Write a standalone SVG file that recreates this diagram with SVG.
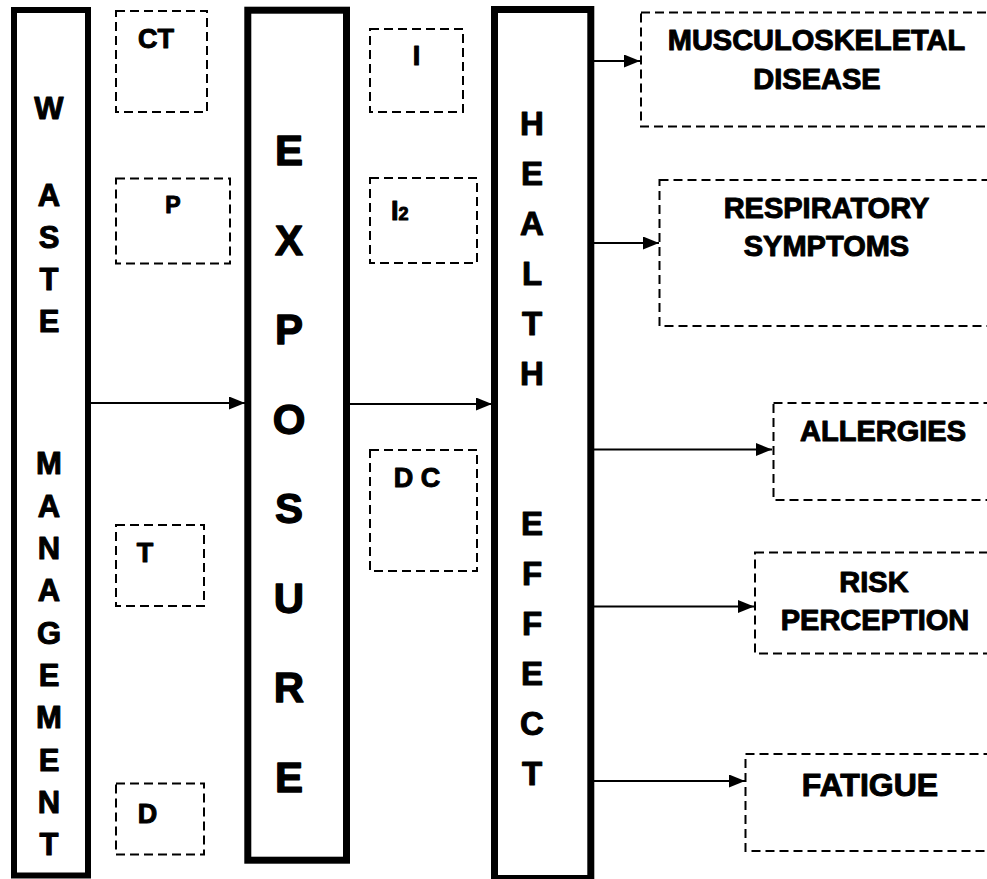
<svg xmlns="http://www.w3.org/2000/svg" width="987" height="879" viewBox="0 0 987 879">
<style>
.thick{fill:#fff;stroke:#000;}
.dash{fill:none;stroke:#000;stroke-width:2;stroke-dasharray:9 5;}
text{font-family:"Liberation Sans",Arial,sans-serif;font-weight:bold;fill:#000;stroke:#000;stroke-width:1;stroke-linejoin:round;text-anchor:middle;}
.wm{font-size:31px;}
.ex{font-size:42px;stroke-width:1.3;}
.he{font-size:33px;}
.sm{font-size:27px;}
.rt{font-size:29px;}
.conn line{stroke:#000;stroke-width:2;}
</style>
<defs>
<marker id="ah" viewBox="0 0 16 13" refX="16" refY="6.5" markerWidth="16" markerHeight="13" markerUnits="userSpaceOnUse" orient="auto">
<path d="M0,0 L16,6.5 L0,13 Z" fill="#000"/>
</marker>
</defs>
<rect width="987" height="879" fill="#fff"/>

<g id="waste-management">
<rect class="thick" x="14" y="10" width="74" height="865.5" stroke-width="6"/>
<text class="wm" x="49" y="119">W</text>
<text class="wm" x="49" y="206">A</text>
<text class="wm" x="49" y="248">S</text>
<text class="wm" x="49" y="290">T</text>
<text class="wm" x="49" y="332">E</text>
<text class="wm" x="49" y="474">M</text>
<text class="wm" x="49" y="516.5">A</text>
<text class="wm" x="49" y="559">N</text>
<text class="wm" x="49" y="601">A</text>
<text class="wm" x="49" y="643.5">G</text>
<text class="wm" x="49" y="686">E</text>
<text class="wm" x="49" y="728">M</text>
<text class="wm" x="49" y="770.5">E</text>
<text class="wm" x="49" y="813">N</text>
<text class="wm" x="49" y="855">T</text>
</g>

<g id="exposure">
<rect class="thick" x="247.8" y="10.2" width="98.7" height="850" stroke-width="7"/>
<text class="ex" x="289" y="165">E</text>
<text class="ex" x="289" y="254.5">X</text>
<text class="ex" x="289" y="344">P</text>
<text class="ex" x="289" y="433.5">O</text>
<text class="ex" x="289" y="523">S</text>
<text class="ex" x="289" y="612.5">U</text>
<text class="ex" x="289" y="702">R</text>
<text class="ex" x="289" y="791.5">E</text>
</g>

<g id="health-effect">
<rect class="thick" x="494.5" y="9.5" width="96.3" height="869" stroke-width="7"/>
<text class="he" x="532" y="135">H</text>
<text class="he" x="532" y="185">E</text>
<text class="he" x="532" y="235">A</text>
<text class="he" x="532" y="285">L</text>
<text class="he" x="532" y="335">T</text>
<text class="he" x="532" y="385">H</text>
<text class="he" x="532" y="535">E</text>
<text class="he" x="532" y="585">F</text>
<text class="he" x="532" y="635">F</text>
<text class="he" x="532" y="685">E</text>
<text class="he" x="532" y="735">C</text>
<text class="he" x="532" y="785">T</text>
</g>

<g id="ct">
<rect class="dash" x="116" y="11" width="91" height="101"/>
<text class="sm" x="156" y="48">CT</text>
</g>
<g id="p">
<rect class="dash" x="116" y="178.5" width="114" height="85"/>
<text class="sm" x="173" y="213" style="font-size:23px">P</text>
</g>
<g id="t">
<rect class="dash" x="116" y="525" width="88" height="81"/>
<text class="sm" x="145" y="562">T</text>
</g>
<g id="d">
<rect class="dash" x="116" y="783.5" width="88" height="71"/>
<text class="sm" x="147.5" y="823">D</text>
</g>
<g id="i">
<rect class="dash" x="370" y="29" width="93" height="83"/>
<text class="sm" x="416.5" y="65">I</text>
</g>
<g id="i2">
<rect class="dash" x="370" y="178" width="107" height="85"/>
<text class="sm" x="391" y="220" style="text-anchor:start">I<tspan style="font-size:18px">2</tspan></text>
</g>
<g id="dc">
<rect class="dash" x="370" y="450" width="107" height="121"/>
<text class="sm" x="417" y="487">D C</text>
</g>

<g id="musculoskeletal-disease">
<rect class="dash" x="641" y="12.5" width="360" height="114"/>
<text class="rt" x="816.5" y="50">MUSCULOSKELETAL</text>
<text class="rt" x="817" y="89">DISEASE</text>
</g>
<g id="respiratory-symptoms">
<rect class="dash" x="659.5" y="180" width="340" height="146"/>
<text class="rt" x="826.5" y="218">RESPIRATORY</text>
<text class="rt" x="826.5" y="256">SYMPTOMS</text>
</g>
<g id="allergies">
<rect class="dash" x="773.5" y="403" width="230" height="97"/>
<text class="rt" x="883" y="441">ALLERGIES</text>
</g>
<g id="risk-perception">
<rect class="dash" x="755" y="552.5" width="250" height="101"/>
<text class="rt" x="874" y="591.5">RISK</text>
<text class="rt" x="875" y="630">PERCEPTION</text>
</g>
<g id="fatigue">
<rect class="dash" x="745.5" y="754" width="260" height="97"/>
<text class="rt" x="870" y="796" style="font-size:32px">FATIGUE</text>
</g>

<g id="connectors" class="conn">
<line x1="91" y1="403" x2="245" y2="403" marker-end="url(#ah)"/>
<line x1="350" y1="404" x2="492" y2="404" marker-end="url(#ah)"/>
<line x1="594" y1="61" x2="640" y2="61" marker-end="url(#ah)"/>
<line x1="594" y1="243" x2="659" y2="243" marker-end="url(#ah)"/>
<line x1="594" y1="449.5" x2="772" y2="449.5" marker-end="url(#ah)"/>
<line x1="594" y1="606.5" x2="754" y2="606.5" marker-end="url(#ah)"/>
<line x1="594" y1="781" x2="745" y2="781" marker-end="url(#ah)"/>
</g>
</svg>
